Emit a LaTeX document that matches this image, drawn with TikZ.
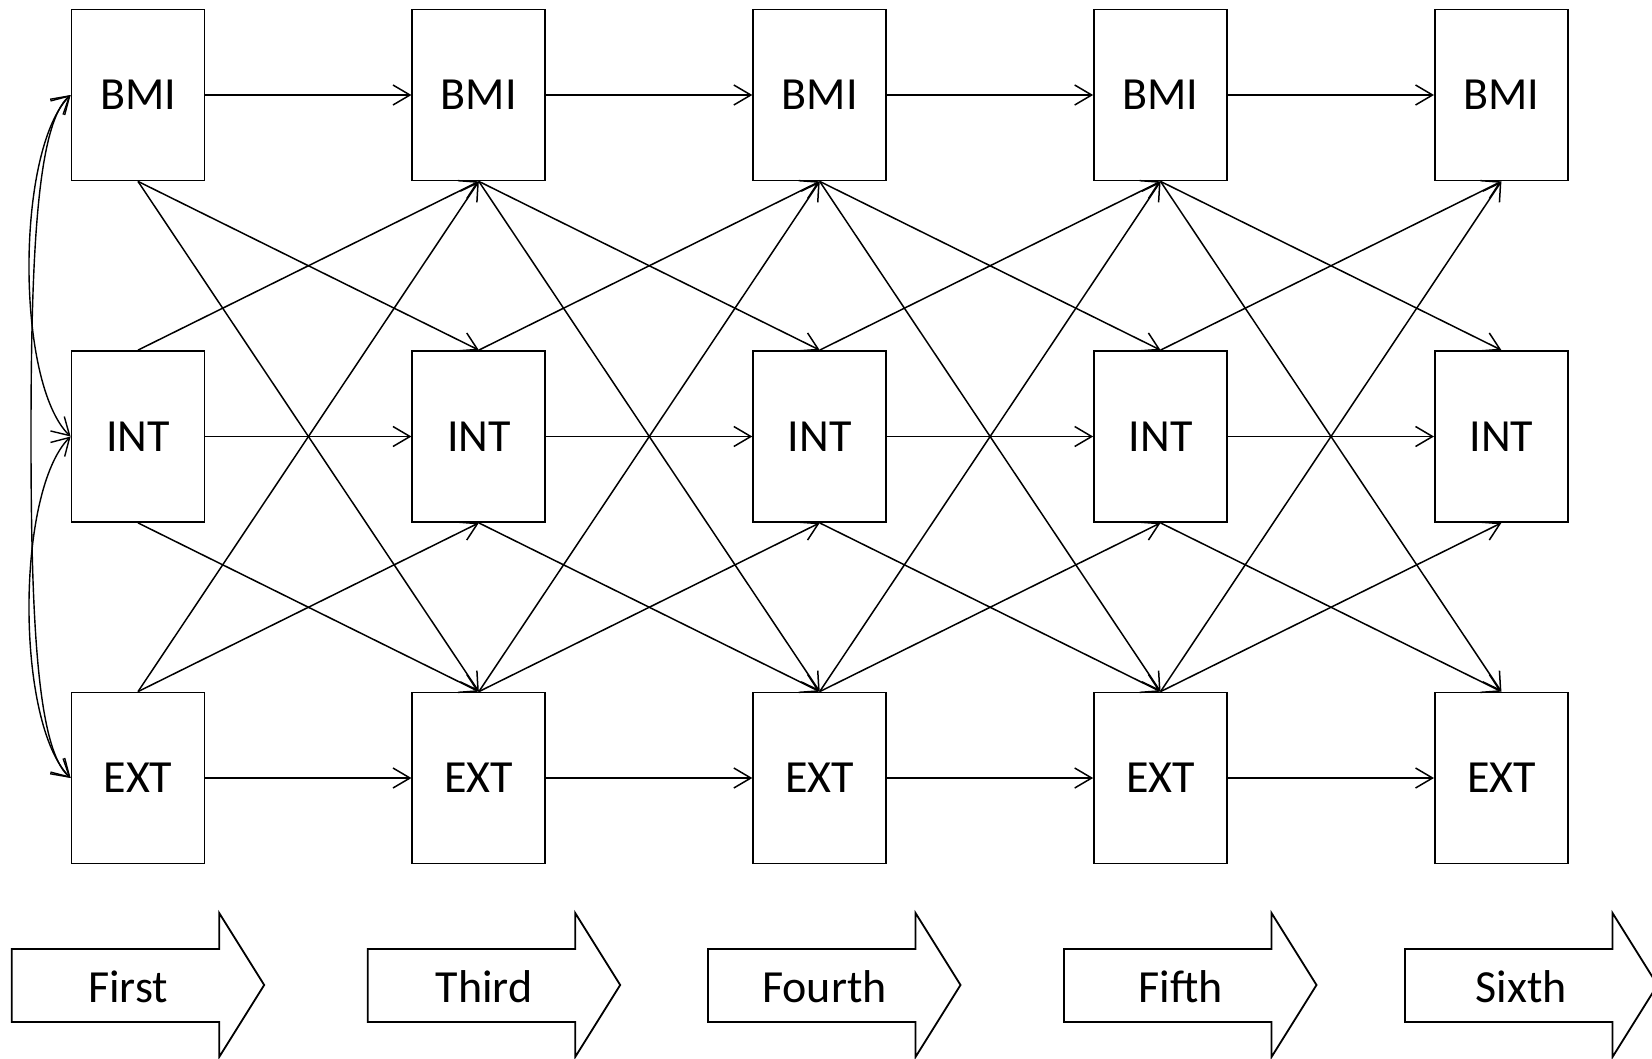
\documentclass[tikz,border=0pt]{standalone}
\usepackage{fontspec}
\setmainfont{Carlito}
\usetikzlibrary{arrows.meta}
\begin{document}
\begin{tikzpicture}[x=1pt,y=-1pt,
  box/.style={draw,line width=1.8pt,minimum width=133pt,minimum height=171pt,
              inner sep=0pt,font=\fontsize{46}{54}\selectfont},
  link/.style={line width=1.5pt,-{Straight Barb[length=17pt,width=20pt]}},
  corr/.style={line width=1.4pt,{Straight Barb[length=17pt,width=20pt]}-{Straight Barb[length=17pt,width=20pt]}},
  stage/.style={draw,line width=1.8pt,line join=miter},
  stagelabel/.style={inner sep=0pt,font=\fontsize{46}{54}\selectfont}]
\useasboundingbox (0,0) rectangle (1652,1058);

% five waves of BMI / INT / EXT boxes
\foreach \k in {1,...,5}{
  \pgfmathsetmacro\cx{138+340.85*(\k-1)}
  \node[box] (b\k) at (\cx,95)    {BMI};
  \node[box] (i\k) at (\cx,436.5) {INT};
  \node[box] (e\k) at (\cx,778)   {EXT};
}

% stability and cross-lagged paths between consecutive waves
\foreach \k [evaluate=\k as \n using int(\k+1)] in {1,...,4}{
  \draw[link] (b\k.east) -- (b\n.west);
  \draw[link] (i\k.east) -- (i\n.west);
  \draw[link] (e\k.east) -- (e\n.west);
  \draw[link] (b\k.south) -- (i\n.north);
  \draw[link] (b\k.south) -- (e\n.north);
  \draw[link] (i\k.north) -- (b\n.south);
  \draw[link] (i\k.south) -- (e\n.north);
  \draw[link] (e\k.north) -- (b\n.south);
  \draw[link] (e\k.north) -- (i\n.south);
}

% within-wave correlations at the first wave
\coordinate (mid) at (31,436.5);
\draw[corr] (b1.west) .. controls +(-55,55) and +(-55,-53) .. (i1.west);
\draw[corr] (i1.west) .. controls +(-55,55) and +(-55,-55) .. (e1.west);
\draw[corr] (b1.west) .. controls +(-33,28) and +(0,-187) .. (mid)
                      .. controls +(0,187) and +(-33,-28) .. (e1.west);

% wave labels in block arrows
\foreach \L/\t/\nm in {11.7/First/s1, 367.7/Third/s2, 708/Fourth/s3, 1064/Fifth/s4, 1405/Sixth/s5}{
  \draw[stage] (\L,949) -- (\L+207.5,949) -- (\L+207.5,913) -- (\L+252.5,985)
               -- (\L+207.5,1057) -- (\L+207.5,1022) -- (\L,1022) -- cycle;
  \node[stagelabel] (\nm) at (\L+116.5,987) {\t};
}
\end{tikzpicture}
\end{document}
